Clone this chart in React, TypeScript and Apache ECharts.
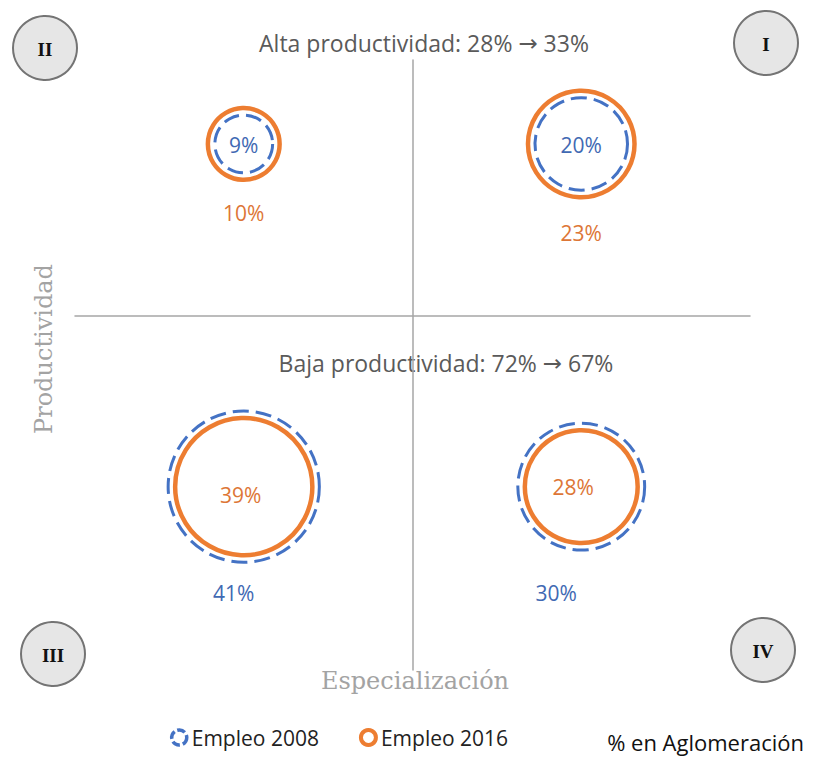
import React, { useEffect, useRef } from "react";
import * as echarts from "echarts";

// ---- data ----
const quadrants = ["I", "II", "III", "IV"];
const quadX = [1, -1, -1, 1];
const quadY = [1, 1, -1, -1];
const empleo2008 = [20, 9, 41, 30];
const empleo2016 = [23, 10, 39, 28];
const seriesNames = ["Empleo 2008", "Empleo 2016"];
const altaProd = [28, 33];
const bajaProd = [72, 67];
const axisNames = ["Especialización", "Productividad"];
const footNote = "% en Aglomeración";

// ---- layout / style ----
const BLUE = "#4472C4";
const ORANGE = "#ED7D31";
const BLUE_TEXT = "#4169B3";
const ORANGE_TEXT = "#DD7636";
const SANS = "'Open Sans', 'Noto Sans', sans-serif";
const SERIF = "'DejaVu Serif', serif";
const INNER_OFFSET: Record<string, number[]> = { I: [0, 1], II: [0, 1], III: [-3, 8], IV: [-8, 0] };
const OUTER_OFFSET: Record<string, number[]> = { I: [0, 89], II: [0, 69], III: [-10, 106], IV: [-25, 106] };
const CORNERS: Record<string, number[]> = { I: [766, 43], II: [45, 48], III: [53, 654], IV: [763, 650] };

const baseR = (v: number) => 7.9 * Math.pow(v, 0.59);
const ringR = (v: number, other: number) => (v > other ? Math.max(baseR(v), baseR(other) + 7) : baseR(v));

function buildData(values: number[], others: number[], textColor: string) {
  return values.map((v, i) => {
    const q = quadrants[i];
    const outer = v > others[i];
    return {
      name: q,
      value: [quadX[i], quadY[i], v],
      symbolSize: 2 * ringR(v, others[i]),
      label: {
        show: true,
        position: "inside",
        offset: outer ? OUTER_OFFSET[q] : INNER_OFFSET[q],
        formatter: `${v}%`,
        color: textColor,
        fontSize: 21,
        fontFamily: SANS,
      },
    };
  });
}

function cornerBadge(q: string) {
  const [cx, cy] = CORNERS[q];
  return {
    type: "group",
    children: [
      {
        type: "circle",
        shape: { cx, cy, r: 32 },
        style: { fill: "#e6e6e6", stroke: "#747474", lineWidth: 2 },
      },
      {
        type: "text",
        style: {
          text: q,
          x: cx,
          y: cy + 1,
          textAlign: "center",
          textVerticalAlign: "middle",
          align: "center",
          verticalAlign: "middle",
          font: "bold 19px 'Liberation Serif', serif",
          fill: "#111",
        },
      },
    ],
  };
}

function textEl(text: string, x: number, y: number, font: string, fill: string, align = "center", rotation = 0, rich?: any) {
  return {
    type: "text",
    x,
    y,
    rotation,
    style: {
      text,
      x: 0,
      y: 0,
      textAlign: align,
      textVerticalAlign: "middle",
      align,
      verticalAlign: "middle",
      font,
      fill,
      rich,
    },
  };
}

const arrowRich = {
  t: { fontSize: 23, fontFamily: SANS, fill: "#5a5a5a", color: "#5a5a5a" },
  a: { fontSize: 23, fontFamily: "'DejaVu Sans', sans-serif", fill: "#5a5a5a", color: "#5a5a5a" },
};

export default function App() {
  const ref = useRef<HTMLDivElement>(null);
  useEffect(() => {
    document.body.style.margin = "0";
    if (!ref.current) return;
    const chart = echarts.init(ref.current, null, { renderer: "svg" });
    const option: any = {
      animation: false,
      backgroundColor: "#ffffff",
      grid: { left: 75, right: 65, top: 60, bottom: 90, containLabel: false },
      xAxis: {
        type: "value",
        min: -2,
        max: 2,
        axisLine: { show: true, onZero: true, lineStyle: { color: "#a6a6a6", width: 1.5 } },
        axisTick: { show: false },
        axisLabel: { show: false },
        splitLine: { show: false },
      },
      yAxis: {
        type: "value",
        min: -2.07,
        max: 1.49,
        axisLine: { show: true, onZero: true, lineStyle: { color: "#a6a6a6", width: 1.5 } },
        axisTick: { show: false },
        axisLabel: { show: false },
        splitLine: { show: false },
      },
      legend: {
        left: 165,
        top: 722,
        itemWidth: 15,
        itemHeight: 15,
        itemGap: 40,
        textStyle: { fontSize: 21, fontFamily: SANS, color: "#222" },
        data: [
          {
            name: seriesNames[0],
            icon: "circle",
            itemStyle: { color: "rgba(0,0,0,0)", borderColor: BLUE, borderWidth: 3.5, borderType: [8, 3] },
          },
          {
            name: seriesNames[1],
            icon: "circle",
            itemStyle: { color: "rgba(0,0,0,0)", borderColor: ORANGE, borderWidth: 4 },
          },
        ],
      },
      series: [
        {
          name: seriesNames[1],
          type: "scatter",
          symbol: "circle",
          itemStyle: { color: "rgba(0,0,0,0)", borderColor: ORANGE, borderWidth: 4.5, opacity: 1 },
          emphasis: { disabled: true },
          data: buildData(empleo2016, empleo2008, ORANGE_TEXT),
          z: 2,
        },
        {
          name: seriesNames[0],
          type: "scatter",
          symbol: "circle",
          itemStyle: { color: "rgba(0,0,0,0)", borderColor: BLUE, borderWidth: 3, borderType: [16, 7], opacity: 1 },
          emphasis: { disabled: true },
          data: buildData(empleo2008, empleo2016, BLUE_TEXT),
          z: 3,
        },
      ],
      graphic: [
        textEl(`{t|Alta productividad: ${altaProd[0]}% }{a|→}{t| ${altaProd[1]}%}`, 424, 43, `23px ${SANS}`, "#5a5a5a", "center", 0, arrowRich),
        textEl(`{t|Baja productividad: ${bajaProd[0]}% }{a|→}{t| ${bajaProd[1]}%}`, 446, 363, `23px ${SANS}`, "#5a5a5a", "center", 0, arrowRich),
        textEl(axisNames[1], 44, 349, `24px ${SERIF}`, "#a3a3a3", "center", Math.PI / 2),
        textEl(axisNames[0], 415, 681, `24px ${SERIF}`, "#a3a3a3"),
        textEl(footNote, 804, 742, `22px ${SANS}`, "#111", "right"),
        ...quadrants.map((q) => cornerBadge(q)),
      ],
    };
    chart.setOption(option);
    return () => chart.dispose();
  }, []);
  return <div ref={ref} style={{ width: 815, height: 760 }} />;
}
